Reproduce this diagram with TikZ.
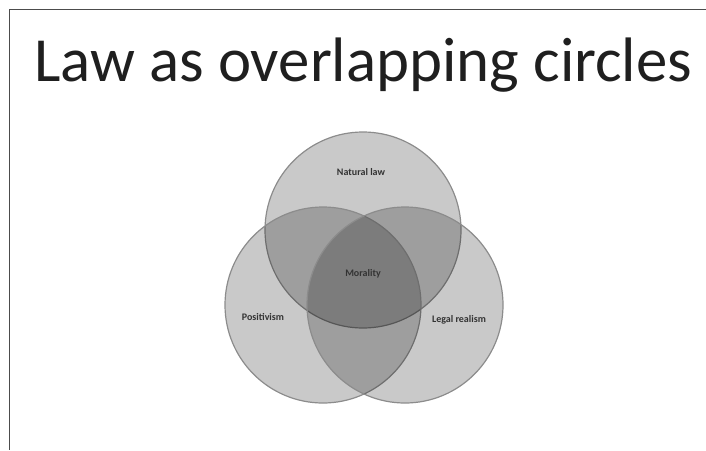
\documentclass[tikz,border=0pt]{standalone}
\usepackage{fontspec}
\usepackage{graphicx}
\setmainfont{Carlito}
\begin{document}
\begin{tikzpicture}[x=1pt,y=-1pt,
  venn/.style={circle, minimum size=196pt, inner sep=0pt, draw=black!45, line width=1.2pt, fill=black, fill opacity=0.21, draw opacity=1},
  lbl/.style={font=\fontsize{10}{12}\selectfont\bfseries, text=black!80, inner sep=0pt},
  frameline/.style={draw=black!70, line width=0.8pt}]
\useasboundingbox (0,0) rectangle (706,450);
\fill[white] (0,0) rectangle (706,450);
\coordinate (ftl) at (9,9);
\coordinate (ftr) at (706,9);
\coordinate (fbl) at (9,450);
\draw[frameline] (ftr) -- (ftl) -- (fbl);
\node[anchor=base west, inner sep=0pt, text=black!88] (title) at (34,81) {\resizebox{658pt}{!}{\fontsize{60}{70}\selectfont Law as overlapping circles}};
\node[venn] (top) at (363,230) {};
\node[venn] (left) at (323,305) {};
\node[venn] (right) at (405,305) {};
\node[lbl] (ltop) at (361,172) {Natural law};
\node[lbl] (lcenter) at (363,274) {Morality};
\node[lbl] (lleft) at (263,317) {Positivism};
\node[lbl] (lright) at (459,320) {Legal realism};
\end{tikzpicture}
\end{document}
